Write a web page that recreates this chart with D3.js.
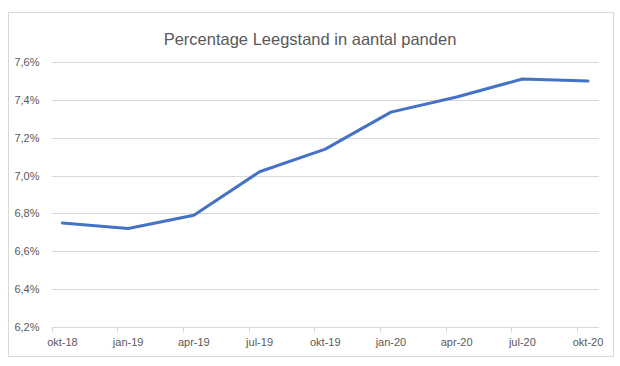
<!DOCTYPE html>
<html>
<head>
<meta charset="utf-8">
<script src="https://cdn.jsdelivr.net/npm/d3@7"></script>
<style>
  html, body { margin: 0; padding: 0; background: #fff; }
  svg { display: block; font-family: "Liberation Sans", Arial, sans-serif; }
</style>
</head>
<body>
<svg id="chart" width="620" height="366"></svg>
<script>
// Data
const categories = ["okt-18", "jan-19", "apr-19", "jul-19", "okt-19", "jan-20", "apr-20", "jul-20", "okt-20"];
const values = [6.75, 6.72, 6.79, 7.02, 7.14, 7.335, 7.415, 7.51, 7.50];
const yTicks = [6.2, 6.4, 6.6, 6.8, 7.0, 7.2, 7.4, 7.6];
const title = "Percentage Leegstand in aantal panden";
const monthsPerCategory = 3;
const totalMonths = 25;

const svg = d3.select("#chart");
const W = 620, H = 366;
const margin = { left: 51.5, right: 21, top: 62, bottom: 39 };
const plotRight = W - margin.right;
const plotBottom = H - margin.bottom;

// Chart border
svg.append("rect")
  .attr("x", 8.5).attr("y", 12.5)
  .attr("width", 605).attr("height", 344)
  .attr("fill", "#fff").attr("stroke", "#d9d9d9").attr("stroke-width", 1);

// Scales (month-index based date axis: points at the middle of each month band)
const x = d3.scaleLinear().domain([0, totalMonths]).range([margin.left, plotRight]);
const y = d3.scaleLinear().domain([6.2, 7.6]).range([plotBottom, margin.top]);

const locale = d3.formatLocale({ decimal: ",", thousands: ".", grouping: [3], currency: ["€", ""] });
const fmt = locale.format(".1f");

// Gridlines
svg.append("g").selectAll("line")
  .data(yTicks.slice(1))
  .join("line")
  .attr("x1", margin.left).attr("x2", plotRight)
  .attr("y1", d => Math.round(y(d)) + 0.5).attr("y2", d => Math.round(y(d)) + 0.5)
  .attr("stroke", "#d9d9d9").attr("stroke-width", 1);

// Y axis labels
const yAxis = d3.axisLeft(y).tickValues(yTicks).tickFormat(d => fmt(d) + "%").tickSize(0).tickPadding(12);
const gy = svg.append("g").attr("transform", `translate(${margin.left},0)`).call(yAxis);
gy.select(".domain").remove();
gy.selectAll("text").attr("fill", "#595959").attr("font-size", 11).attr("font-family", '"Liberation Sans", Arial, sans-serif');

// X axis: ticks at category boundaries, labels at band centers
const tickPos = categories.map((c, i) => i * monthsPerCategory);
const gx = svg.append("g").attr("transform", `translate(0,${Math.round(plotBottom) + 0.5})`);
gx.append("line").attr("x1", margin.left).attr("x2", plotRight).attr("stroke", "#d9d9d9");
gx.selectAll("line.tick").data(tickPos).join("line").attr("class", "tick")
  .attr("x1", d => Math.round(x(d)) + 0.5).attr("x2", d => Math.round(x(d)) + 0.5)
  .attr("y1", 0).attr("y2", 5).attr("stroke", "#d9d9d9");
gx.selectAll("text").data(categories).join("text")
  .attr("x", (d, i) => x(i * monthsPerCategory + 0.5))
  .attr("y", 18)
  .attr("text-anchor", "middle")
  .attr("fill", "#595959").attr("font-size", 11)
  .text(d => d);

// Line
const line = d3.line()
  .x((d, i) => x(i * monthsPerCategory + 0.5))
  .y(d => y(d));
svg.append("path").datum(values)
  .attr("d", line)
  .attr("fill", "none")
  .attr("stroke", "#4472C4")
  .attr("stroke-width", 3)
  .attr("stroke-linejoin", "round")
  .attr("stroke-linecap", "round");

// Title
svg.append("text")
  .attr("x", 310).attr("y", 45)
  .attr("text-anchor", "middle")
  .attr("fill", "#595959")
  .attr("font-size", 16.5)
  .text(title);
</script>
</body>
</html>
